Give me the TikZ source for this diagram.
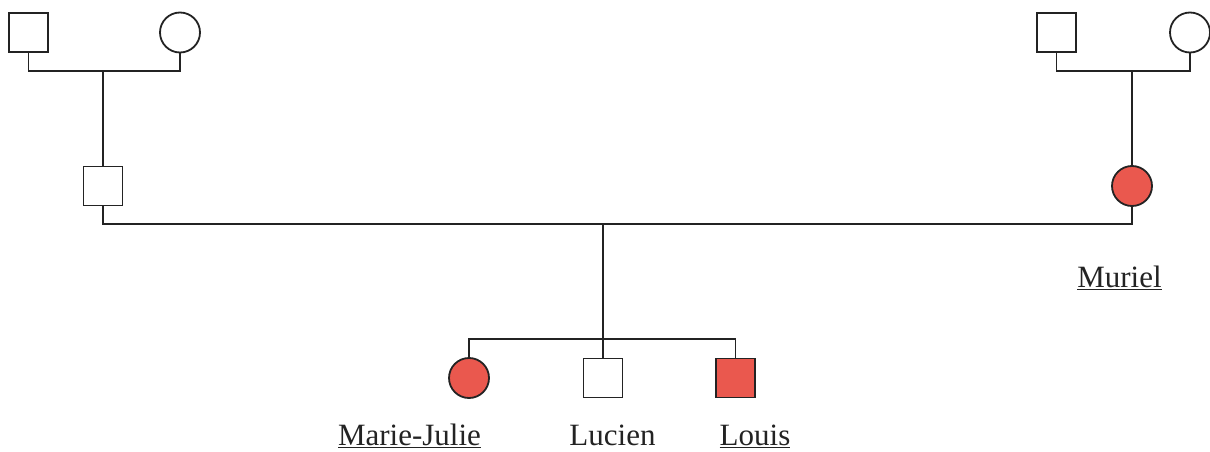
\documentclass[tikz,border=0pt]{standalone}
\usepackage{fontspec}
\setmainfont{Liberation Serif}
\definecolor{affred}{RGB}{234,88,78}
\definecolor{ink}{RGB}{35,35,35}
\begin{document}
\begin{tikzpicture}[x=1pt,y=-1pt,
  male/.style={draw=ink,line width=1.8pt,rectangle,minimum size=39pt,inner sep=0pt,fill=white},
  female/.style={draw=ink,line width=1.8pt,circle,minimum size=40pt,inner sep=0pt,fill=white},
  aff/.style={fill=affred},
  link/.style={draw=ink,line width=1.8pt},
  lbl/.style={anchor=base,inner sep=0pt,text=ink,font=\fontsize{31}{36}\selectfont}]
\useasboundingbox (0,0) rectangle (1210,452);
% generation I
\node[male] (gf1) at (28.5,32.5) {};
\node[female] (gm1) at (180,32.5) {};
\node[male] (gf2) at (1056.5,32.5) {};
\node[female] (gm2) at (1190,32.5) {};
% generation II
\node[male] (father) at (103,186) {};
\node[female,aff] (muriel) at (1132,186) {};
% generation III
\node[female,aff] (mj) at (469,378) {};
\node[male] (lucien) at (603,378) {};
\node[male,aff] (louis) at (735.5,378) {};
% junction points
\coordinate (m1) at (103,71);
\coordinate (m2) at (1132,71);
\coordinate (m3) at (603,224);
\coordinate (s) at (603,339);
% connectors
\draw[link] (gf1.south) |- (m1) -| (gm1.south);
\draw[link] (m1) -- (father.north);
\draw[link] (gf2.south) |- (m2) -| (gm2.south);
\draw[link] (m2) -- (muriel.north);
\draw[link] (father.south) |- (m3) -| (muriel.south);
\draw[link] (m3) -- (lucien.north);
\draw[link] (mj.north) |- (s) -| (louis.north);
% labels
\node[lbl] (lmuriel) at (1119.5,287) {\underline{Muriel}};
\node[lbl] (lmj) at (409.5,445) {\underline{Marie-Julie}};
\node[lbl] (llucien) at (612.5,445) {Lucien};
\node[lbl] (llouis) at (755,445) {\underline{Louis}};
\end{tikzpicture}
\end{document}
